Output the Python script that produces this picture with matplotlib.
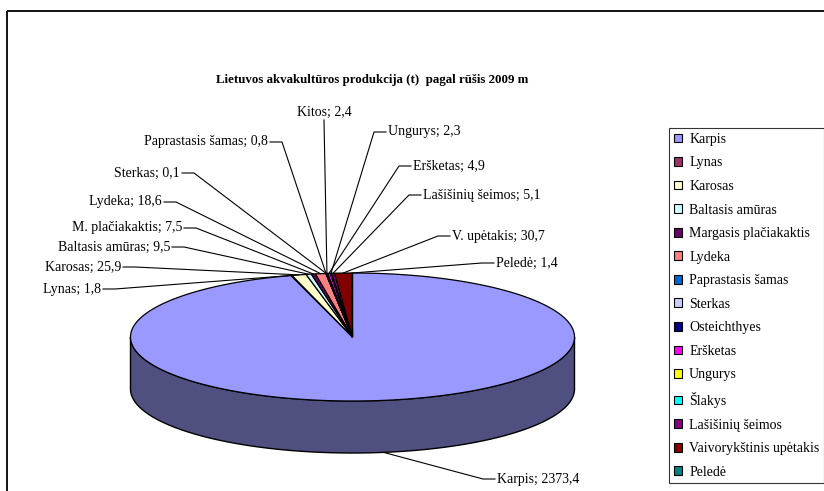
import numpy as np
import matplotlib
matplotlib.use("Agg")
from matplotlib import pyplot as plt
from matplotlib.patches import Polygon, Rectangle, Patch

# data (legend order = slice order, clockwise from 12 o'clock)
species = ['Karpis', 'Lynas', 'Karosas', 'Baltasis amūras', 'Margasis plačiakaktis',
           'Lydeka', 'Paprastasis šamas', 'Sterkas', 'Osteichthyes', 'Eršketas',
           'Ungurys', 'Šlakys', 'Lašišinių šeimos', 'Vaivorykštinis upėtakis', 'Peledė']
tonnes = [2373.4, 1.8, 25.9, 9.5, 7.5, 18.6, 0.8, 0.1, 2.4, 4.9, 2.3, 0.0, 5.1, 30.7, 1.4]
short_names = ['Karpis', 'Lynas', 'Karosas', 'Baltasis amūras', 'M. plačiakaktis',
               'Lydeka', 'Paprastasis šamas', 'Sterkas', 'Kitos', 'Eršketas',
               'Ungurys', None, 'Lašišinių šeimos', 'V. upėtakis', 'Peledė']
colors = ['#9999FF', '#993366', '#FFFFCC', '#CCFFFF', '#660066', '#FF8080', '#0066CC',
          '#CCCCFF', '#000080', '#FF00FF', '#FFFF00', '#00FFFF', '#800080', '#800000', '#008080']
title = 'Lietuvos akvakultūros produkcija (t)  pagal rūšis 2009 m'

# layout: where each data label sits (x, y in pixels, alignment)
label_pos = {
    'Karpis': (497, 479, 'left'),
    'Lynas': (101, 289, 'right'),
    'Karosas': (121, 267, 'right'),
    'Baltasis amūras': (170, 247, 'right'),
    'M. plačiakaktis': (182, 228, 'right'),
    'Lydeka': (162, 202, 'right'),
    'Sterkas': (180, 173, 'right'),
    'Paprastasis šamas': (268, 142, 'right'),
    'Kitos': (324, 112, 'center'),
    'Ungurys': (388, 132, 'left'),
    'Eršketas': (413, 166, 'left'),
    'Lašišinių šeimos': (423, 195, 'left'),
    'V. upėtakis': (452, 236, 'left'),
    'Peledė': (496, 263, 'left'),
}

plt.rcParams['font.family'] = ['Liberation Serif', 'DejaVu Serif']

fig = plt.figure(figsize=(8.24, 4.91), dpi=100)
ax = fig.add_axes([0, 0, 1, 1])
ax.set_xlim(0, 824)
ax.set_ylim(491, 0)
ax.axis('off')

# chart area border
ax.add_patch(Rectangle((7, 11), 840, 500, fill=False, ec='black', lw=1.3))

ax.text(372, 80, title, ha='center', va='center', fontsize=9.3, fontweight='bold')

# 3d pie geometry
cx, cy, a, b, depth = 352.5, 337, 222, 64, 52


def pt(phi, dz=0):
    r = np.radians(phi)
    return cx + a * np.sin(r), cy - b * np.cos(r) + dz


vals = np.array(tonnes)
bounds = np.concatenate([[0], np.cumsum(vals)]) / vals.sum() * 360

# side wall (front half belongs to Karpis)
ph = np.linspace(90, 270, 200)
top = [pt(p) for p in ph]
bot = [pt(p, depth) for p in ph[::-1]]
ax.add_patch(Polygon(top + bot, closed=True, fc='#4F4F80', ec='black', lw=1.0))

# top faces
for i in range(len(vals)):
    if vals[i] <= 0:
        continue
    ph = np.linspace(bounds[i], bounds[i + 1], max(3, int(bounds[i + 1] - bounds[i]) * 2))
    poly = [(cx, cy)] + [pt(p) for p in ph]
    ax.add_patch(Polygon(poly, closed=True, fc=colors[i], ec='black', lw=0.9))

# data labels with leader lines
for i, name in enumerate(short_names):
    if name is None:
        continue
    x, y, ha = label_pos[name]
    mid = (bounds[i] + bounds[i + 1]) / 2
    if name == 'Karpis':
        tx, ty = pt(mid, depth)
    else:
        tx, ty = pt(mid)
    txt = '%s; %s' % (name, ('%.1f' % tonnes[i]).replace('.', ','))
    ax.text(x, y, txt, ha=ha, va='center', fontsize=10)
    if ha == 'right':
        xs, ys = [x + 2, x + 14, tx], [y, y, ty]
    elif ha == 'left':
        xs, ys = [x - 2, x - 14, tx], [y, y, ty]
    else:
        xs, ys = [x, tx], [y + 8, ty]
    ax.plot(xs, ys, color='black', lw=0.8)

handles = [Patch(fc=c, ec='black', lw=0.8) for c in colors]
fig.legend(handles, species, loc='upper left', bbox_to_anchor=(669 / 824, 1 - 128 / 491),
           borderaxespad=0, frameon=True, fancybox=False, edgecolor='black',
           fontsize=10, handlelength=0.6, handleheight=0.6, handletextpad=0.5,
           labelspacing=0.76, borderpad=0.35).get_frame().set_linewidth(0.8)

fig.savefig('out.png', dpi=100)
